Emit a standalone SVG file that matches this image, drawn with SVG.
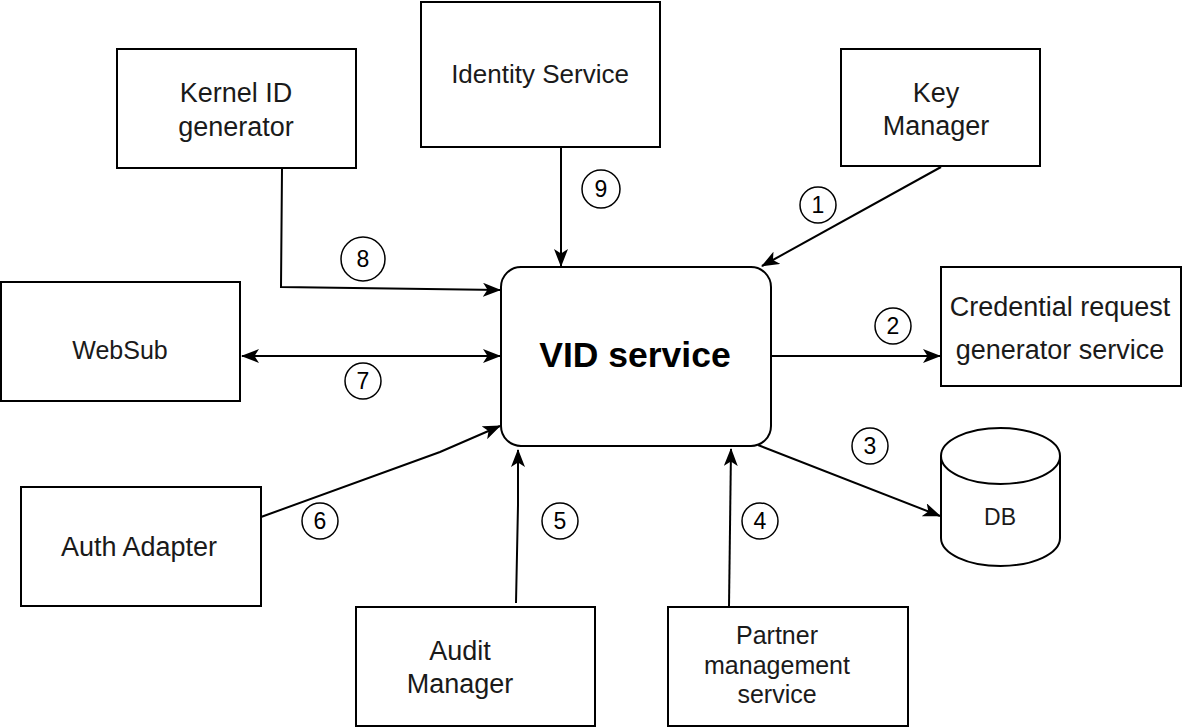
<svg xmlns="http://www.w3.org/2000/svg" width="1182" height="728" viewBox="0 0 1182 728">
<style>
.box{fill:#fff;stroke:#000;stroke-width:2}
.t{font-family:"Liberation Sans",Arial,sans-serif;font-size:27px;fill:#1a1a1a;text-anchor:middle}
.c{fill:#fff;stroke:#000;stroke-width:1.5}
.n{font-family:"Liberation Sans",Arial,sans-serif;font-size:23px;fill:#000;text-anchor:middle}
.e{fill:none;stroke:#000;stroke-width:2}
</style>
<defs>
<marker id="a" markerUnits="userSpaceOnUse" viewBox="0 0 18 14" markerWidth="18" markerHeight="14" refX="17" refY="7" orient="auto-start-reverse">
<path d="M0,0 L18,7 L0,14 L4.5,7 z" fill="#000"/>
</marker>
</defs>
<rect width="1182" height="728" fill="#fff"/>

<g id="connectors">
<path class="e" d="M941,167 L762,266" marker-end="url(#a)"/>
<path class="e" d="M771,356 L940,356" marker-end="url(#a)"/>
<path class="e" d="M758,445 L940,516" marker-end="url(#a)"/>
<path class="e" d="M729,607 L731,449" marker-end="url(#a)"/>
<path class="e" d="M516,603 L518,505 L518,450" marker-end="url(#a)"/>
<path class="e" d="M261,517 L440,452 L500,426" marker-end="url(#a)"/>
<path class="e" d="M242,356 L500,356" marker-start="url(#a)" marker-end="url(#a)"/>
<path class="e" d="M282,169 L281,287 L500,290" marker-end="url(#a)"/>
<path class="e" d="M561,147 L561,266" marker-end="url(#a)"/>
<g id="labels">
<circle class="c" cx="818" cy="205" r="18"/><text class="n" x="818" y="213">1</text>
<circle class="c" cx="893" cy="326" r="18"/><text class="n" x="893" y="334">2</text>
<circle class="c" cx="870" cy="446" r="18"/><text class="n" x="870" y="454">3</text>
<circle class="c" cx="760" cy="521" r="18"/><text class="n" x="760" y="529">4</text>
<circle class="c" cx="560" cy="521" r="18"/><text class="n" x="560" y="529">5</text>
<circle class="c" cx="320" cy="521" r="18"/><text class="n" x="320" y="529">6</text>
<circle class="c" cx="363" cy="381" r="18"/><text class="n" x="363" y="389">7</text>
<circle class="c" cx="363" cy="259" r="22"/><text class="n" x="363" y="267">8</text>
<circle class="c" cx="601" cy="189" r="19"/><text class="n" x="601" y="197">9</text>
</g>
</g>

<g id="vid">
<rect class="box" x="501" y="267" width="270" height="179" rx="20"/>
<text x="635" y="367" style="font-family:'Liberation Sans',Arial,sans-serif;font-size:35.5px;font-weight:bold;text-anchor:middle;fill:#000">VID service</text>
</g>
<g id="kernel">
<rect class="box" x="117" y="49" width="239" height="119"/>
<text class="t" x="236" y="102">Kernel ID</text>
<text class="t" x="236" y="136">generator</text>
</g>
<g id="identity">
<rect class="box" x="421" y="2" width="239" height="145"/>
<text class="t" x="540" y="83" style="font-size:26px">Identity Service</text>
</g>
<g id="keymanager">
<rect class="box" x="841" y="49" width="199" height="117"/>
<text class="t" x="936" y="102">Key</text>
<text class="t" x="936" y="135">Manager</text>
</g>
<g id="websub">
<rect class="box" x="1" y="282" width="239" height="119"/>
<text class="t" x="120" y="359" style="font-size:25px">WebSub</text>
</g>
<g id="credential">
<rect class="box" x="941" y="267" width="240" height="119"/>
<text class="t" x="1060" y="316">Credential request</text>
<text class="t" x="1060" y="359">generator service</text>
</g>
<g id="db">
<path class="box" d="M941,456 L941,538 A59.5,28 0 0 0 1060,538 L1060,456 A59.5,28 0 0 0 941,456 Z"/>
<path class="e" d="M941,456 A59.5,28 0 0 0 1060,456"/>
<text class="t" x="1000" y="525" style="font-size:23px">DB</text>
</g>
<g id="auth">
<rect class="box" x="21" y="487" width="240" height="119"/>
<text class="t" x="139" y="556">Auth Adapter</text>
</g>
<g id="audit">
<rect class="box" x="356" y="607" width="239" height="119"/>
<text class="t" x="460" y="660">Audit</text>
<text class="t" x="460" y="693">Manager</text>
</g>
<g id="partner">
<rect class="box" x="668" y="607" width="240" height="119"/>
<text class="t" x="777" y="644" style="font-size:25px">Partner</text>
<text class="t" x="777" y="674" style="font-size:25px">management</text>
<text class="t" x="777" y="703" style="font-size:25px">service</text>
</g>
</svg>
